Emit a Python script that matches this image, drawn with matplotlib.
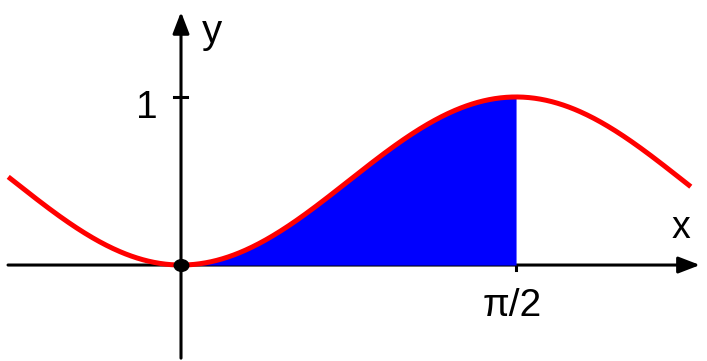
import numpy as np
import matplotlib.pyplot as plt
from matplotlib.path import Path
from matplotlib.transforms import Affine2D

plt.rcParams['font.family'] = ['Liberation Sans', 'DejaVu Sans']

# curve y = sin^2(x), shaded from 0 to pi/2
x_start, x_end = -0.81, 2.39
shade_start, shade_end = 0.0, np.pi / 2
x_tick_value, x_tick_label = np.pi / 2, "π/2"
y_tick_value, y_tick_label = 1, "1"

x = np.linspace(x_start, x_end, 600)
y = np.sin(x) ** 2
xs = np.linspace(shade_start, shade_end, 300)
ys = np.sin(xs) ** 2

fig = plt.figure(figsize=(7.07, 3.61), dpi=100)
ax = fig.add_axes([0, 0, 1, 1])
ax.set_xlim(-0.8486, 2.466)
ax.set_ylim(-0.571, 1.577)
ax.axis('off')

# axes with arrow heads
arrow = dict(arrowstyle='-|>,head_length=0.65,head_width=0.25', color='black',
             lw=2.2, mutation_scale=20, shrinkA=0, shrinkB=0)
ax.annotate('', xy=(2.433, 0), xytext=(-0.811, 0), arrowprops=arrow, zorder=1)
ax.annotate('', xy=(0, 1.506), xytext=(0, -0.554), arrowprops=arrow, zorder=1)

# tick marks
ax.plot([-0.033, 0.028], [y_tick_value, y_tick_value], color='black', lw=2.2, zorder=1)
ax.plot([x_tick_value, x_tick_value], [0, -0.03], color='black', lw=2.2, zorder=1)

ax.fill_between(xs, 0, ys, color='#0000ff', lw=0, zorder=2)
ax.plot(x, y, color='#ff0000', lw=3.6, solid_capstyle='butt', zorder=3)

# slightly wide dot at the origin
oval = Path.unit_circle().transformed(Affine2D().scale(1.25, 1.0))
ax.plot([0], [0], marker=oval, color='black', ms=10.5, zorder=4)

ax.text(-0.159, 0.875, y_tick_label, fontsize=28, ha='center', va='baseline')
ax.text(x_tick_value - 0.02, -0.304, x_tick_label, fontsize=28, ha='center', va='baseline')
ax.text(2.344, 0.161, "x", fontsize=27, ha='center', va='baseline')
ax.text(0.145, 1.321, "y", fontsize=29, ha='center', va='baseline')

fig.savefig('out.png', dpi=100)
